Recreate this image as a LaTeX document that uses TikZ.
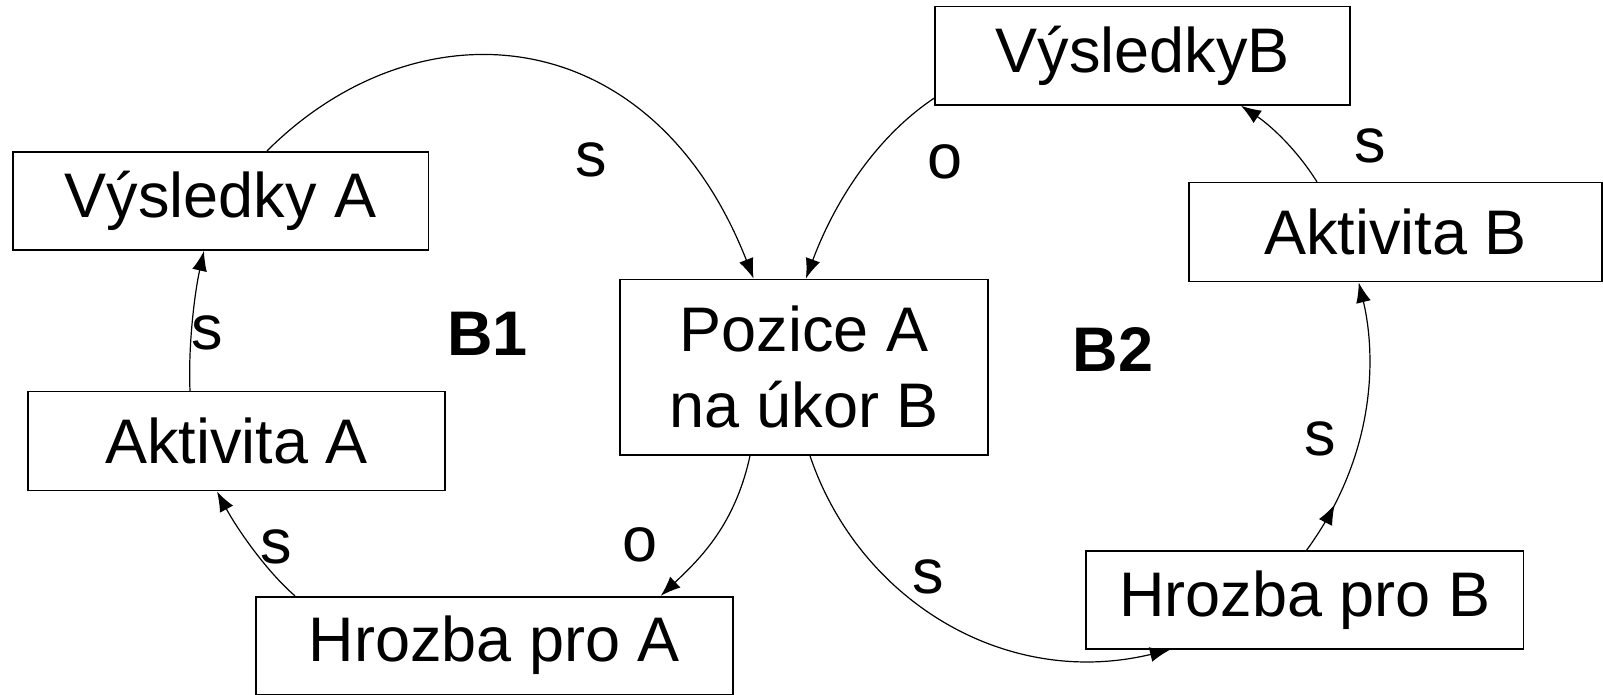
\documentclass[tikz,border=0pt]{standalone}
\usepackage{fontspec}
\setmainfont{Liberation Sans}
\usetikzlibrary{arrows.meta,calc,decorations.markings}
\begin{document}
\begin{tikzpicture}[x=0.5pt,y=-0.5pt,
  box/.style={draw,line width=0.8pt,inner sep=0pt,align=center,
    font=\fontsize{31.5}{38}\selectfont},
  lbl/.style={inner sep=0pt,font=\fontsize{31.5}{38}\selectfont},
  conn/.style={line width=0.6pt,-{Latex[length=10pt,width=7.5pt]}},
  midarrow/.style={postaction={decorate},decoration={markings,
    mark=at position #1 with {\arrow{Latex[length=10pt,width=7.5pt]}}}}]
\fill[white] (0,0) rectangle (1603,695);
\useasboundingbox (0,0) rectangle (1603,695);
% boxes
\node[box,minimum width=207.9pt,minimum height=49.15pt] (va) at (220.7,200.9) {Výsledky A};
\node[box,minimum width=208.5pt,minimum height=49.5pt] (aa) at (236.5,441.2) {Aktivita A};
\node[box,minimum width=238.5pt,minimum height=48.8pt] (ha) at (494.5,645.5) {Hrozba pro A};
\node[box,minimum width=183.9pt,minimum height=87.85pt] (pz) at (803.9,367.2) {Pozice A\\na úkor B};
\node[box,minimum width=207.4pt,minimum height=49.15pt] (vb) at (1142.6,55.8) {VýsledkyB};
\node[box,minimum width=206.35pt,minimum height=49.5pt] (ab) at (1395.6,232.2) {Aktivita B};
\node[box,minimum width=218.75pt,minimum height=49pt] (hb) at (1304.8,600) {Hrozba pro B};
% loop labels
\node[lbl,font=\fontsize{31.5}{38}\selectfont\bfseries] (b1) at (487.6,334) {B1};
\node[lbl,font=\fontsize{31.5}{38}\selectfont\bfseries] (b2) at (1113,349.6) {B2};
% polarity labels
\node[lbl] (l1) at (591,160) {s};
\node[lbl] (l2) at (207.5,333) {s};
\node[lbl] (l3) at (276,547) {s};
\node[lbl] (l4) at (640,545) {o};
\node[lbl] (l5) at (944.6,161.5) {o};
\node[lbl] (l6) at (1370,146) {s};
\node[lbl] (l7) at (1320,438.6) {s};
\node[lbl] (l8) at (928,576.6) {s};
% connectors
\draw[conn] ($(va.north)+(46.3,0)$) .. controls +(150,-150) and +(-102.6,-261.3) .. ($(pz.north)+(-50.3,0)$);
\draw[conn] ($(aa.north)+(-46.5,0)$) .. controls +(-2,-46.7) and +(-9,40) .. ($(va.south)+(-16.7,0)$);
\draw[conn] ($(ha.north)+(-199.5,0)$) .. controls +(-30,-26) and +(19,35.3) .. ($(aa.south)+(-19.5,0)$);
\draw[conn] ($(pz.south)+(-53.9,0)$) .. controls +(-15,68.6) and +(40.2,-38) .. ($(ha.north)+(166.2,0)$);
\draw[conn] ($(vb.west)+(0,42.2)$) .. controls +(-60,40) and +(28,-75) .. ($(pz.north)+(2,0)$);
\draw[conn] ($(ab.north)+(-78.6,0)$) .. controls +(-20,-32) and +(30,20) .. ($(vb.south)+(98.4,0)$);
\draw[conn,midarrow=0.19] ($(hb.north)+(1.8,0)$) .. controls +(76.7,-105.3) and +(14.3,58.3) .. ($(ab.south)+(-36.9,0)$);
\draw[conn] ($(pz.south)+(6.1,0)$) .. controls +(48,142.5) and +(-166.6,40) .. ($(hb.south)+(-134.8,0)$);
\end{tikzpicture}
\end{document}
